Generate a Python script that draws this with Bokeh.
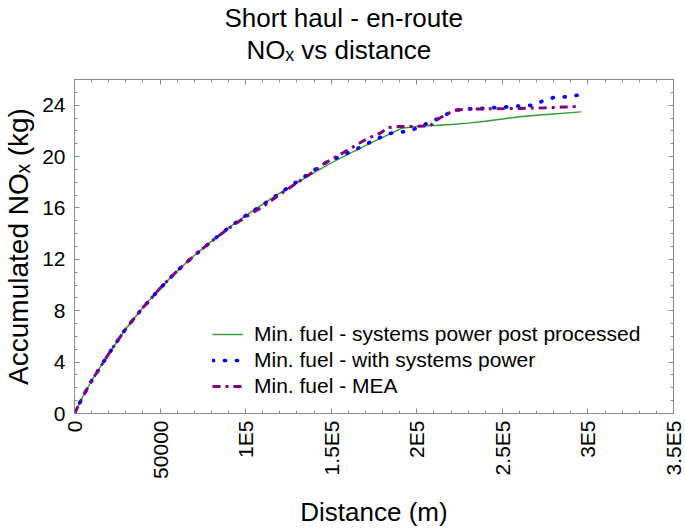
import math
from bokeh.plotting import figure
from bokeh.models import (FixedTicker, LinearAxis, Legend, LegendItem, Title,
                          Range1d, CustomJSTickFormatter)
from bokeh.embed import file_html
from bokeh.resources import INLINE

# ---------------- data ----------------
x_ticks = [0, 50000, 100000, 150000, 200000, 250000, 300000, 350000]
x_tick_labels = ["0", "50000", "1E5", "1.5E5", "2E5", "2.5E5", "3E5", "3.5E5"]
y_ticks = [0, 4, 8, 12, 16, 20, 24]

green_x = [0, 5000, 10000, 20000, 30000, 40000, 50000, 60000, 70000, 80000, 90000,
           100000, 110000, 120000, 130000, 140000, 150000, 160000, 170000, 180000,
           191000, 200000, 210000, 220000, 230000, 240000, 250000, 260000, 270000,
           280000, 290000, 296000]
green_y = [0, 1.35, 2.55, 4.65, 6.6, 8.25, 9.75, 11.1, 12.3, 13.4, 14.45,
           15.4, 16.3, 17.15, 17.95, 18.75, 19.5, 20.2, 20.85, 21.5,
           22.2, 22.35, 22.42, 22.5, 22.6, 22.75, 22.93, 23.1, 23.22,
           23.32, 23.42, 23.48]

blue_x = [0, 5000, 10000, 20000, 30000, 40000, 50000, 60000, 70000, 80000, 90000,
          100000, 110000, 120000, 130000, 140000, 147000, 155000, 165000, 177000,
          184000, 190000, 196000, 203000, 210000, 216000, 222000, 229000, 236000,
          242000, 249000, 255000, 262000, 268000, 274000, 280000, 287000, 294000]
blue_y = [0, 1.35, 2.55, 4.65, 6.6, 8.25, 9.75, 11.1, 12.3, 13.4, 14.45,
          15.4, 16.25, 17.15, 18.05, 18.95, 19.55, 20.0, 20.6, 21.4,
          21.8, 21.9, 22.0, 22.4, 22.8, 23.2, 23.6, 23.7, 23.72,
          23.8, 23.82, 23.9, 23.95, 24.0, 24.35, 24.6, 24.65, 24.78]

mea_x = [0, 5000, 10000, 20000, 30000, 40000, 50000, 60000, 70000, 80000, 90000,
         100000, 110000, 120000, 130000, 140000, 146000, 159000, 171000, 179000,
         183000, 190000, 198000, 208000, 211000, 216000, 222000, 230000, 245000,
         260000, 275000, 285000, 295000]
mea_y = [0, 1.35, 2.55, 4.65, 6.6, 8.25, 9.75, 11.1, 12.3, 13.4, 14.4,
         15.3, 16.1, 17.05, 17.95, 18.85, 19.45, 20.45, 21.4, 21.85,
         22.25, 22.35, 22.35, 22.4, 22.8, 23.2, 23.6, 23.7, 23.72,
         23.75, 23.8, 23.85, 23.9]

series_labels = ["Min. fuel - systems power post processed",
                 "Min. fuel - with systems power",
                 "Min. fuel - MEA"]

title_line1 = "Short haul - en-route"
title_line2 = "NO\u2093 vs distance"
x_label = "Distance (m)"
y_label = "Accumulated NO\u2093 (kg)"

# ---------------- layout ----------------
W, H = 685, 529
FONT = "Liberation Sans"
GRAY = "#8a8a8a"

p = figure(width=W, height=H, output_backend="svg", toolbar_location=None,
           title=None,
           x_range=Range1d(0, 350000), y_range=Range1d(0, 26),
           x_axis_type=None, y_axis_type=None,
           min_border_left=74, min_border_right=12,
           min_border_top=77, min_border_bottom=116)
p.outline_line_color = GRAY
p.background_fill_color = "white"
p.border_fill_color = "white"

x_ticker = FixedTicker(ticks=x_ticks, minor_ticks=list(range(0, 350001, 10000)))
y_ticker = FixedTicker(ticks=y_ticks, minor_ticks=list(range(0, 27)))


def style(ax, ticker, show):
    ax.ticker = ticker
    ax.axis_line_color = GRAY
    ax.major_tick_line_color = GRAY
    ax.minor_tick_line_color = GRAY
    ax.major_tick_in = 5
    ax.major_tick_out = 0
    ax.minor_tick_in = 3
    ax.minor_tick_out = 0
    ax.major_label_text_font = FONT
    ax.major_label_text_font_size = "21px"
    ax.major_label_text_color = "black"
    ax.axis_label_text_font = FONT
    ax.axis_label_text_font_style = "normal"
    ax.axis_label_text_color = "black"
    if not show:
        ax.formatter = CustomJSTickFormatter(code="return ''")
        ax.major_label_text_font_size = "0px"
        ax.major_label_standoff = 0


xb = LinearAxis()
style(xb, x_ticker, True)
xb.major_label_overrides = {t: l for t, l in zip(x_ticks, x_tick_labels)}
xb.major_label_orientation = math.pi / 2
xb.major_label_standoff = 7
xb.axis_label = x_label
xb.axis_label_text_font_size = "26px"
xb.axis_label_standoff = 15
p.add_layout(xb, "below")

yl = LinearAxis()
style(yl, y_ticker, True)
yl.major_label_overrides = {t: str(t) for t in y_ticks}
yl.major_label_standoff = 9
yl.axis_label = y_label
yl.axis_label_text_font_size = "28px"
yl.axis_label_standoff = 5
p.add_layout(yl, "left")

xa = LinearAxis()
style(xa, x_ticker, False)
p.add_layout(xa, "above")

yr = LinearAxis()
style(yr, y_ticker, False)
p.add_layout(yr, "right")

# titles (line 2 closest to the frame, then line 1)
t2 = Title(text=title_line2, align="left", offset=172, standoff=0,
           text_font=FONT, text_font_size="26px", text_font_style="normal",
           text_color="black")
t1 = Title(text=title_line1, align="left", offset=150, standoff=0,
           text_font=FONT, text_font_size="26px", text_font_style="normal",
           text_color="black")
try:
    t2.padding = dict(left=0, right=0, top=0, bottom=15)
except Exception:
    pass
p.add_layout(t2, "above")
p.add_layout(t1, "above")

# ---------------- lines ----------------
r1 = p.line(green_x, green_y, line_color="#2e9e2e", line_width=1.4)
r2 = p.line(blue_x, blue_y, line_color="#0000ff", line_width=3.7,
            line_dash="1 11", line_cap="round")
r3 = p.line(mea_x, mea_y, line_color="#800080", line_width=3,
            line_dash="8 5 3 5")

legend = Legend(items=[LegendItem(label=series_labels[0], renderers=[r1]),
                       LegendItem(label=series_labels[1], renderers=[r2]),
                       LegendItem(label=series_labels[2], renderers=[r3])],
                location=(138, 15), padding=0, margin=0,
                border_line_color=None, background_fill_alpha=0,
                glyph_width=31, glyph_height=22, label_height=22,
                label_standoff=11, spacing=2,
                label_text_font=FONT, label_text_font_size="21px",
                label_text_color="black")
p.add_layout(legend)

open("out.html", "w").write(file_html(p, INLINE))
